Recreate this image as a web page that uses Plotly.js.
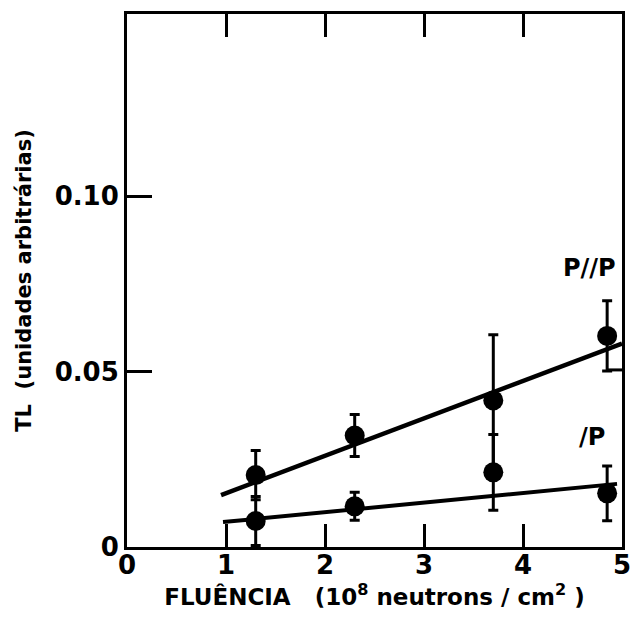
<!DOCTYPE html>
<html>
<head>
<meta charset="utf-8">
<script src="https://cdn.plot.ly/plotly-3.0.1.min.js"></script>
<style>html,body{margin:0;padding:0;background:#fff;}#chart{width:639px;height:634px;}</style>
</head>
<body>
<div id="chart"></div>
<script>
// Data
const fluence = [1.3, 2.3, 3.7, 4.85];
const tl_pp = [0.0205, 0.0318, 0.0418, 0.0602];
const err_pp = [0.007, 0.006, 0.0187, 0.010];
const tl_p = [0.0074, 0.0116, 0.0213, 0.0153];
const err_p = [0.007, 0.004, 0.0108, 0.0078];
const fit_x_pp = [0.95, 5.0];
const fit_y_pp = [0.0148, 0.058];
const fit_x_p = [0.97, 4.95];
const fit_y_p = [0.0071, 0.018];
const bracket_x = [4.85, 5.0];
const bracket_y = [0.0505, 0.0505];
const xTicks = [0, 1, 2, 3, 4, 5];
const yTicks = [0, 0.05, 0.10];
const yTickText = ['0', '0.05', '0.10'];
const labels = ['P//P', '/P'];
const labelX = [4.67, 4.7];
const labelY = [0.0795, 0.0315];

const black = '#000';
const fam = 'DejaVu Sans, Liberation Sans, sans-serif';
const fnt = {family: fam, color: black, weight: 'bold'};

const traces = [
  {x: fit_x_pp, y: fit_y_pp, mode: 'lines', line: {color: black, width: 4.5}, hoverinfo: 'skip'},
  {x: fit_x_p, y: fit_y_p, mode: 'lines', line: {color: black, width: 4}, hoverinfo: 'skip'},
  {x: bracket_x, y: bracket_y, mode: 'lines', line: {color: black, width: 3}, hoverinfo: 'skip'},
  {x: fluence, y: tl_pp, mode: 'markers', marker: {color: black, size: 20},
   error_y: {type: 'data', array: err_pp, visible: true, color: black, thickness: 3, width: 5}},
  {x: fluence, y: tl_p, mode: 'markers', marker: {color: black, size: 20},
   error_y: {type: 'data', array: err_p, visible: true, color: black, thickness: 3, width: 5}}
];

const layout = {
  width: 639, height: 634,
  margin: {l: 127, r: 17, t: 14, b: 87},
  paper_bgcolor: '#fff', plot_bgcolor: '#fff',
  showlegend: false,
  font: fnt,
  xaxis: {
    range: [0, 5], tickvals: xTicks, ticks: 'inside', ticklen: 23, tickwidth: 3, tickcolor: black,
    showline: true, linewidth: 3, linecolor: black, mirror: 'ticks', showgrid: false, zeroline: false,
    ticklabelstandoff: -7,
    tickfont: {family: fam, size: 26, color: black, weight: 'bold'},
    title: {text: 'FLUÊNCIA   (10<sup>8</sup> neutrons / cm<sup>2</sup> )', font: {family: fam, size: 23, color: black, weight: 'bold'}, standoff: 4}
  },
  yaxis: {
    range: [0, 0.152], tickvals: yTicks, ticktext: yTickText, ticks: 'inside', ticklen: 25, tickwidth: 3, tickcolor: black,
    showline: true, linewidth: 3, linecolor: black, mirror: true, showgrid: false, zeroline: false,
    tickfont: {family: fam, size: 26, color: black, weight: 'bold'},
    title: {text: 'TL  (unidades arbitrárias)', font: {family: fam, size: 21, color: black, weight: 'bold'}, standoff: 18}
  },
  annotations: labels.map((t, i) => ({
    x: labelX[i], y: labelY[i], xref: 'x', yref: 'y', text: t, showarrow: false,
    font: {family: fam, size: 24, color: black, weight: 'bold'}
  }))
};

Plotly.newPlot('chart', traces, layout, {displayModeBar: false, staticPlot: true});
</script>
</body>
</html>
